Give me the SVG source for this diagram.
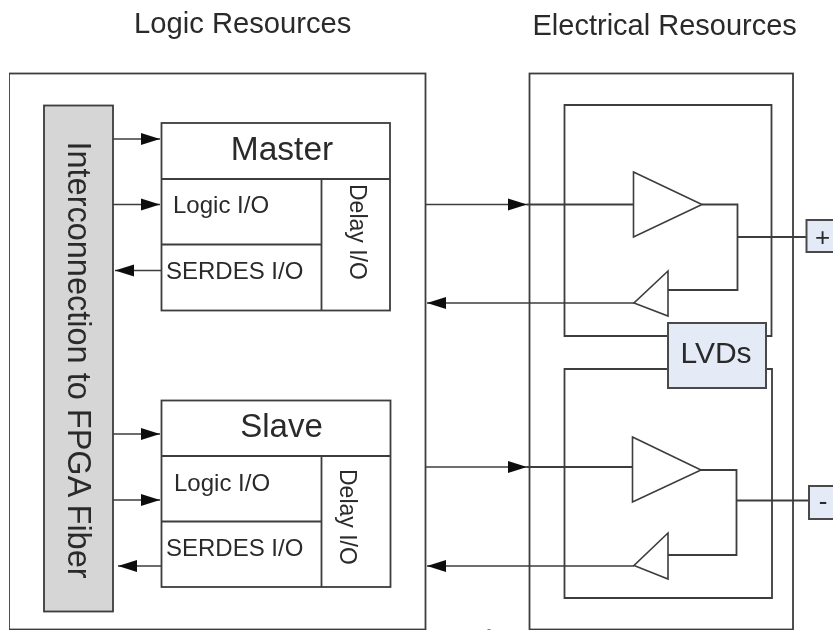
<svg xmlns="http://www.w3.org/2000/svg" width="833" height="631" viewBox="0 0 833 631">
<defs>
<marker id="arrow" markerUnits="userSpaceOnUse" markerWidth="19" markerHeight="14" refX="19" refY="7" orient="auto"><path d="M0 1L19 7L0 13Z" fill="#111"/></marker>
<filter id="soft" x="0" y="0" width="100%" height="100%"><feGaussianBlur stdDeviation="0.45"/></filter>
</defs>
<style>
text{font-family:"Liberation Sans",Arial,sans-serif;fill:#2a2a2a}
.box{fill:#fff;stroke:#3c3c3c;stroke-width:1.8}
.ln{fill:none;stroke:#3c3c3c;stroke-width:1.8}
.blue{fill:#e4eaf6;stroke:#4a4a4a;stroke-width:2}
.gray{fill:#d6d6d6;stroke:#3c3c3c;stroke-width:1.8}
.ar{fill:none;stroke:#3c3c3c;stroke-width:1.6;marker-end:url(#arrow)}
.tri{fill:#fff;stroke:#3c3c3c;stroke-width:1.6}
</style>
<rect width="833" height="631" fill="#fff"/>
<g filter="url(#soft)">
<g id="title-logic"><text x="134" y="32.5" font-size="29.2">Logic Resources</text></g>
<g id="title-electrical"><text x="532.5" y="35" font-size="29">Electrical Resources</text></g>
<g id="logic-resources"><rect class="box" x="9" y="73.5" width="416.5" height="556"/></g>
<g id="electrical-resources"><rect class="box" x="529.5" y="73.5" width="263.5" height="556"/></g>
<g id="fiber"><rect class="gray" x="44" y="105.5" width="69" height="506"/>
<text transform="translate(68,360) rotate(90)" font-size="32.5" text-anchor="middle">Interconnection to FPGA Fiber</text></g>
<g id="master"><rect class="box" x="161.5" y="123" width="228.5" height="187.5"/>
<path class="ln" d="M161.5 179H390M321.5 179V310.5M161.5 244.5H321.5"/>
<text x="282" y="160" font-size="33.5" text-anchor="middle">Master</text>
<text x="173" y="213" font-size="24">Logic I/O</text>
<text x="166" y="279" font-size="24">SERDES I/O</text>
<text transform="translate(350,184) rotate(90)" font-size="23">Delay I/O</text></g>
<g id="slave"><rect class="box" x="161.5" y="400.5" width="229" height="186.5"/>
<path class="ln" d="M161.5 456H390.5M321.5 456V587M161.5 521.5H321.5"/>
<text x="281.5" y="437" font-size="33" text-anchor="middle">Slave</text>
<text x="174" y="490.5" font-size="24">Logic I/O</text>
<text x="166" y="555.5" font-size="24">SERDES I/O</text>
<text transform="translate(340,469) rotate(90)" font-size="23">Delay I/O</text></g>
<g id="connectors">
<path class="ar" d="M113 139H160"/><path class="ar" d="M113 204.5H160"/><path class="ar" d="M161 270.5H115"/>
<path class="ar" d="M113 434H160"/><path class="ar" d="M113 500H160"/><path class="ar" d="M161 566H118"/>
<path class="ar" d="M426 204.5H527"/><path class="ln" d="M527 204.5H634"/>
<path class="ar" d="M426 467H527"/><path class="ln" d="M527 467H633"/>
<path class="ar" d="M634 303H427"/><path class="ar" d="M634 566H427"/>
<path class="ln" d="M668 336H564.5V105H771.5V336H766"/>
<path class="ln" d="M668 369H564.5V598H772V369H766"/>
<path class="ln" d="M702 204.5H737.5V290H668M737.5 237H806"/>
<path class="ln" d="M701 470H736.5V555H668M736.5 500.5H809"/>
</g>
<g id="amp-m1"><path class="tri" d="M633.5 172L702 204.5L633.5 237Z"/></g>
<g id="amp-m2"><path class="tri" d="M668 271L634 303L668 316Z"/></g>
<g id="amp-s1"><path class="tri" d="M632.5 437L701 470L632.5 502Z"/></g>
<g id="amp-s2"><path class="tri" d="M668 533L634 565.5L668 579Z"/></g>
<g id="lvds"><rect class="blue" x="668" y="323" width="98" height="65"/><text x="716" y="363" font-size="30" text-anchor="middle">LVDs</text></g>
<g id="plus"><rect class="blue" x="806.5" y="220" width="30" height="32"/><text x="822.7" y="245.5" font-size="26" text-anchor="middle">+</text></g>
<g id="minus"><rect class="blue" x="809" y="486" width="30" height="33"/><text x="823" y="509.5" font-size="26" text-anchor="middle">-</text></g>
<path d="M487.5 630H490.5" stroke="#555" stroke-width="1.5"/>
</g>
</svg>
